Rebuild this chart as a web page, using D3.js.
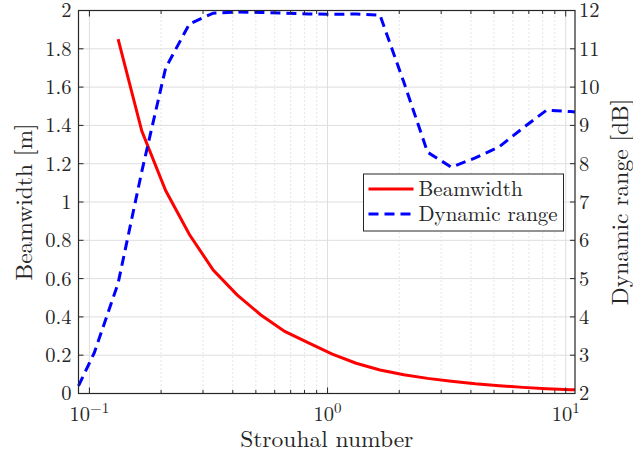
<!DOCTYPE html>
<html>
<head>
<meta charset="utf-8">
<script src="https://cdn.jsdelivr.net/npm/d3@7"></script>
</head>
<body style="margin:0; background:#fff">
<svg id="chart" width="633" height="456" style="display:block"></svg>
<script>
// Strouhal number samples and the two series
const stBeam = [0.132, 0.166, 0.209, 0.263, 0.331, 0.417, 0.525, 0.661, 0.832, 1.047, 1.318, 1.66, 2.09, 2.63, 3.31, 4.17, 5.25, 6.61, 8.32, 10.47, 10.94];
const beamwidth = [1.85, 1.37, 1.06, 0.83, 0.645, 0.515, 0.41, 0.324, 0.264, 0.206, 0.158, 0.123, 0.098, 0.079, 0.064, 0.051, 0.041, 0.032, 0.025, 0.020, 0.019];

const stRange = [0.09, 0.1048, 0.132, 0.166, 0.209, 0.263, 0.331, 0.417, 0.525, 0.661, 0.832, 1.047, 1.318, 1.66, 2.09, 2.63, 3.31, 4.17, 5.25, 6.61, 8.32, 10.47, 10.94];
const dynRange = [2.2, 3.06, 4.88, 7.8, 10.5, 11.65, 11.93, 11.96, 11.95, 11.93, 11.91, 11.90, 11.91, 11.88, 10.13, 8.30, 7.91, 8.15, 8.44, 8.93, 9.40, 9.36, 9.35];

const xMajor = [0.1, 1, 10];
const xMajorExp = ["\u22121", "0", "1"];
const yLeftTicks = [0, 0.2, 0.4, 0.6, 0.8, 1, 1.2, 1.4, 1.6, 1.8, 2];
const yRightTicks = [2, 3, 4, 5, 6, 7, 8, 9, 10, 11, 12];
const seriesNames = ["Beamwidth", "Dynamic range"];

const width = 633;
const height = 456;
const margin = { top: 10.5, right: 58, bottom: 62.5, left: 78.5 };
const axisColor = "#262626";
const serif = '"Latin Modern Roman", "CMU Serif", "Liberation Serif", serif';

const svg = d3.select("#chart");

const x = d3.scaleLog().domain([0.09, 10.94]).range([margin.left, width - margin.right]);
const yL = d3.scaleLinear().domain([0, 2]).range([height - margin.bottom, margin.top]);
const yR = d3.scaleLinear().domain([2, 12]).range([height - margin.bottom, margin.top]);

const x0 = margin.left, x1 = width - margin.right;
const y0 = height - margin.bottom, y1 = margin.top;

// minor x positions 2..9 in each decade, inside domain
const xMinor = [];
[0.01, 0.1, 1, 10].forEach((d) => {
  for (let k = 2; k <= 9; k++) {
    const v = d * k;
    if (v > x.domain()[0] && v < x.domain()[1]) xMinor.push(v);
  }
});

const grid = svg.append("g");
grid.selectAll(".minor")
  .data(xMinor)
  .join("line")
  .attr("x1", (d) => x(d)).attr("x2", (d) => x(d))
  .attr("y1", y0).attr("y2", y1)
  .attr("stroke", "#c4c4c4")
  .attr("stroke-width", 0.8)
  .attr("stroke-dasharray", "1,3");
grid.selectAll(".majx")
  .data(xMajor)
  .join("line")
  .attr("x1", (d) => x(d)).attr("x2", (d) => x(d))
  .attr("y1", y0).attr("y2", y1)
  .attr("stroke", "#dedede")
  .attr("stroke-width", 1);
grid.selectAll(".majy")
  .data(yLeftTicks)
  .join("line")
  .attr("x1", x0).attr("x2", x1)
  .attr("y1", (d) => yL(d)).attr("y2", (d) => yL(d))
  .attr("stroke", "#dedede")
  .attr("stroke-width", 1);

// series lines
const plot = svg.append("g");
const lineL = d3.line().x((d) => x(d[0])).y((d) => yL(d[1]));
const lineR = d3.line().x((d) => x(d[0])).y((d) => yR(d[1]));

plot.append("path")
  .attr("d", lineL(d3.zip(stBeam, beamwidth)))
  .attr("fill", "none")
  .attr("stroke", "#ff0000")
  .attr("stroke-width", 3);

plot.append("path")
  .attr("d", lineR(d3.zip(stRange, dynRange)))
  .attr("fill", "none")
  .attr("stroke", "#0000ff")
  .attr("stroke-width", 3)
  .attr("stroke-dasharray", "10,6");

// axes box
const ax = svg.append("g").attr("stroke", axisColor).attr("fill", "none");
ax.append("rect")
  .attr("x", x0).attr("y", y1)
  .attr("width", x1 - x0).attr("height", y0 - y1)
  .attr("stroke-width", 1.2);

// x ticks bottom and top, pointing inward
ax.selectAll(".xt")
  .data(xMajor)
  .join("path")
  .attr("d", (d) => `M${x(d)},${y0}v-6M${x(d)},${y1}v6`);
ax.selectAll(".xm")
  .data(xMinor)
  .join("path")
  .attr("d", (d) => `M${x(d)},${y0}v-3.5M${x(d)},${y1}v3.5`);

// y ticks
ax.selectAll(".yl")
  .data(yLeftTicks)
  .join("path")
  .attr("d", (d) => `M${x0},${yL(d)}h5`);
ax.selectAll(".yr")
  .data(yRightTicks)
  .join("path")
  .attr("d", (d) => `M${x1},${yR(d)}h-5`);

// tick labels
const labels = svg.append("g").attr("fill", "#262626").attr("font-size", 20.5);

labels.selectAll(".ylab")
  .data(yLeftTicks)
  .join("text")
  .style("font-family", serif)
  .attr("x", x0 - 7)
  .attr("y", (d) => yL(d))
  .attr("dy", "0.34em")
  .attr("text-anchor", "end")
  .text((d) => d3.format("~g")(d));

labels.selectAll(".yrlab")
  .data(yRightTicks)
  .join("text")
  .style("font-family", serif)
  .attr("x", x1 + 4)
  .attr("y", (d) => yR(d))
  .attr("dy", "0.34em")
  .attr("text-anchor", "start")
  .text((d) => d);

const xl = labels.selectAll(".xlab")
  .data(xMajor)
  .join("text")
  .style("font-family", serif)
  .attr("x", (d) => x(d))
  .attr("y", y0 + 27)
  .attr("text-anchor", "middle");
xl.append("tspan").text("10");
xl.append("tspan")
  .attr("dy", -8)
  .attr("font-size", 15)
  .text((d, i) => xMajorExp[i]);

// axis titles
svg.append("text")
  .style("font-family", serif)
  .attr("x", (x0 + x1) / 2)
  .attr("y", 447)
  .attr("text-anchor", "middle")
  .attr("font-size", 23.5)
  .attr("fill", "#262626")
  .text("Strouhal number");

svg.append("text")
  .style("font-family", serif)
  .attr("transform", `translate(32,${(y0 + y1) / 2}) rotate(-90)`)
  .attr("text-anchor", "middle")
  .attr("font-size", 23.5)
  .attr("fill", "#262626")
  .text("Beamwidth [m]");

svg.append("text")
  .style("font-family", serif)
  .attr("transform", `translate(628,${(y0 + y1) / 2}) rotate(-90)`)
  .attr("text-anchor", "middle")
  .attr("font-size", 23.5)
  .attr("fill", "#262626")
  .text("Dynamic range [dB]");

// legend
const legend = svg.append("g").attr("transform", "translate(363.5,174)");
legend.append("rect")
  .attr("width", 200).attr("height", 57)
  .attr("fill", "#fff")
  .attr("stroke", "#262626")
  .attr("stroke-width", 1);
const legendRows = legend.selectAll(".row")
  .data(seriesNames)
  .join("g")
  .attr("transform", (d, i) => `translate(0,${15 + i * 25})`);
legendRows.append("line")
  .attr("x1", 5).attr("x2", 50)
  .attr("stroke", (d, i) => (i === 0 ? "#ff0000" : "#0000ff"))
  .attr("stroke-width", 3)
  .attr("stroke-dasharray", (d, i) => (i === 0 ? null : "10,6"));
legendRows.append("text")
  .style("font-family", serif)
  .attr("x", 55)
  .attr("dy", "0.34em")
  .attr("font-size", 21)
  .attr("fill", "#262626")
  .text((d) => d);
</script>
</body>
</html>
